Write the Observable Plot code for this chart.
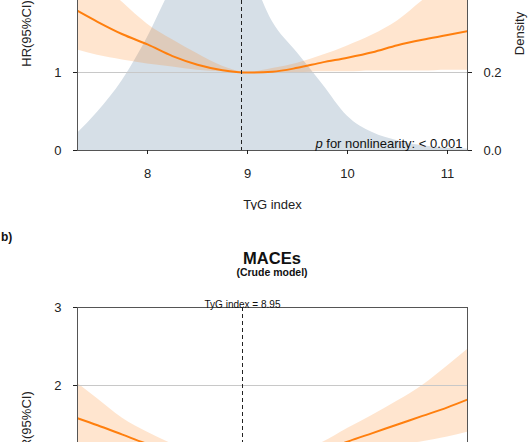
<!DOCTYPE html>
<html><head><meta charset="utf-8">
<script src="https://cdn.jsdelivr.net/npm/d3@7"></script>
<script src="https://cdn.jsdelivr.net/npm/@observablehq/plot@0.6"></script>
<style>
body{margin:0;background:#fff;font-family:"Liberation Sans",Arial,sans-serif;}
#wrap{position:relative;width:530px;height:442px;overflow:hidden;background:#fff;}
.abs{position:absolute;}
.ttl{font-weight:bold;text-align:center;color:#111;}
</style></head><body>
<div id="wrap">
 <div id="pa" class="abs" style="left:0;top:-94px"></div>
 <div class="abs" style="left:1px;top:231px;font-weight:bold;font-size:12px;line-height:12px;color:#111">b)</div>
 <div class="abs ttl" style="left:77px;width:390px;top:250px;font-size:16.5px;line-height:16px">MACEs</div>
 <div class="abs ttl" style="left:77px;width:390px;top:267px;font-size:10.5px;line-height:11px">(Crude model)</div>
 <div id="pb" class="abs" style="left:0;top:287px"></div>
</div>
<script>
// TyG index grid
const tyg   = [7.3, 7.5, 7.75, 8.0, 8.25, 8.5, 8.75, 9.0, 9.25, 9.5, 9.75, 10.0, 10.25, 10.5, 10.75, 11.0, 11.2];
// Panel a: HR, 95% CI, density
const hrA   = [1.79, 1.65, 1.49, 1.36, 1.21, 1.10, 1.03, 1.00, 1.01, 1.06, 1.13, 1.19, 1.26, 1.35, 1.42, 1.48, 1.53];
const loA   = [1.29, 1.22, 1.16, 1.11, 1.07, 1.03, 1.01, 1.00, 1.00, 1.00, 1.01, 1.01, 1.02, 1.02, 1.02, 1.03, 1.03];
const hiA   = [2.50, 2.20, 1.90, 1.62, 1.42, 1.24, 1.08, 1.00, 1.05, 1.12, 1.22, 1.34, 1.48, 1.66, 1.92, 2.15, 2.35];
const densA = [0.044, 0.098, 0.18, 0.29, 0.42, 0.52, 0.55, 0.47, 0.33, 0.25, 0.17, 0.088, 0.046, 0.025, 0.012, 0.006, 0.004];
// Panel b: HR, 95% CI
const hrB   = [1.58, 1.49, 1.37, 1.25, 1.15, 1.07, 1.02, 1.00, 1.01, 1.06, 1.16, 1.28, 1.39, 1.50, 1.61, 1.72, 1.82];
const loB   = [1.20, 1.16, 1.12, 1.08, 1.04, 1.02, 1.00, 1.00, 0.98, 0.99, 1.05, 1.12, 1.17, 1.23, 1.28, 1.34, 1.40];
const hiB   = [2.03, 1.83, 1.58, 1.40, 1.25, 1.14, 1.05, 1.00, 1.05, 1.14, 1.27, 1.45, 1.62, 1.80, 2.00, 2.25, 2.46];
// reference values and labels
const refA = 8.94, refB = 8.95;
const xTicks = [8, 9, 10, 11];
const yTicksA = [0, 1];
const yTicksB = [2, 3];
const densTicks = [0.0, 0.2];
const densFactor = 5; // density 0.2 ↔ HR 1
const pText = "p for nonlinearity: < 0.001";

const rowsA = tyg.map((x, i) => ({x, hr: hrA[i], lo: loA[i], hi: hiA[i], dens: densA[i]}));
const rowsB = tyg.map((x, i) => ({x, hr: hrB[i], lo: loB[i], hi: hiB[i]}));

const ORANGE = "#ff7f0e";
function panel(rows, ref, opts) {
  const {withDensity, marginTop, showP, yTicks, refLabel, xAxis} = opts;
  const marks = [];
  if (withDensity) marks.push(Plot.areaY(rows, {x: "x", y: d => d.dens * densFactor, fill: "#d6dfe7", curve: "monotone-x", clip: true}));
  marks.push(
    Plot.areaY(rows, {x: "x", y1: "lo", y2: "hi", fill: ORANGE, fillOpacity: 0.2, curve: "monotone-x", clip: true}),
    Plot.ruleY([1, 2], {stroke: "#c8c8c8", strokeWidth: 1}),
    Plot.lineY(rows, {x: "x", y: "hr", stroke: ORANGE, strokeWidth: 2, curve: "monotone-x", clip: true}),
    Plot.ruleX([ref], {stroke: "#222", strokeDasharray: "4,3", strokeWidth: 1}),
    Plot.frame({stroke: "#555"}),
    Plot.axisY({anchor: "left", ticks: yTicks, tickFormat: d3.format("d"), tickSize: 4, tickPadding: 12, label: "HR(95%CI)", labelAnchor: "center", labelArrow: "none", labelOffset: 56})
  );
  marks.push(xAxis
    ? Plot.axisX({ticks: xTicks, tickFormat: d3.format("d"), tickSize: 4, tickPadding: 14, label: "TyG index", labelAnchor: "center", labelArrow: "none", labelOffset: 58})
    : Plot.axisX({ticks: [], label: null}));
  if (refLabel) marks.push(Plot.text([ref], {x: d => d, frameAnchor: "top", dy: -7, text: d => "TyG index = " + d.toFixed(2), fontSize: 10, fill: "#111"}));
  if (withDensity) marks.push(Plot.axisY({anchor: "right", ticks: densTicks.map(t => t * densFactor), tickFormat: t => (t / densFactor).toFixed(1), tickSize: 4, tickPadding: 12, label: "Density", labelAnchor: "center", labelArrow: "none", labelOffset: 56}));
  if (showP) marks.push(Plot.text([pText], {frameAnchor: "bottom-right", dx: -5, dy: -3, text: d => d, textAnchor: "end", lineAnchor: "bottom", fontSize: 13, fill: "#111"}));
  const svg = Plot.plot({
    width: 530, height: marginTop + 234 + 60,
    marginLeft: 77, marginRight: 63, marginTop, marginBottom: 60,
    style: {fontFamily: "Liberation Sans, Arial, sans-serif", fontSize: "13px", color: "#222", background: "transparent"},
    x: {domain: [7.3, 11.2]},
    y: {domain: [0, 3]},
    marks
  });
  d3.select(svg).selectAll("text").filter(function() { return this.textContent === pText; }).each(function() {
    const t = d3.select(this);
    t.text("");
    t.append("tspan").attr("font-style", "italic").text("p");
    t.append("tspan").text(pText.slice(1));
  });
  return svg;
}
document.getElementById("pa").appendChild(panel(rowsA, refA, {withDensity: true, marginTop: 10, showP: true, yTicks: yTicksA, refLabel: false, xAxis: true}));
document.getElementById("pb").appendChild(panel(rowsB, refB, {withDensity: false, marginTop: 20, showP: false, yTicks: yTicksB, refLabel: true, xAxis: false}));
</script>
</body></html>
